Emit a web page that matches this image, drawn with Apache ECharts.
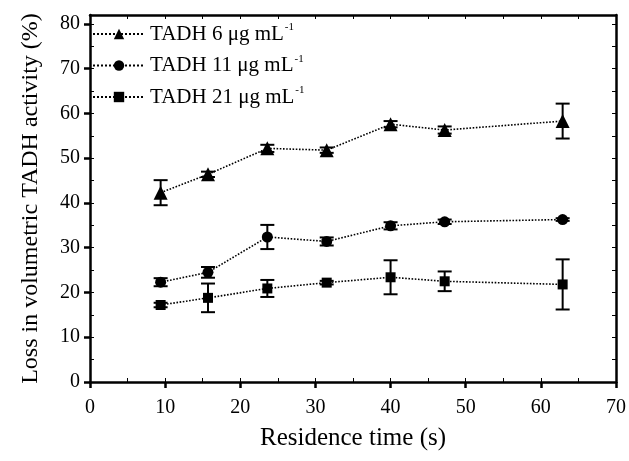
<!DOCTYPE html>
<html><head><meta charset="utf-8">
<script src="https://cdn.jsdelivr.net/npm/echarts@6/dist/echarts.min.js"></script>
<style>html,body{margin:0;padding:0;background:#fff}#c{width:629px;height:461px}</style>
</head><body><div id="c"></div>
<script>
const xs = [9.4, 15.7, 23.6, 31.5, 40.0, 47.2, 62.9];
const names = ['TADH 6 μg mL', 'TADH 11 μg mL', 'TADH 21 μg mL'];
const tri = [42.3, 46.4, 52.2, 51.8, 57.6, 56.3, 58.3];
const triErr = [2.8, 0.6, 0.8, 0.6, 0.7, 0.8, 3.9];
const cir = [22.3, 24.5, 32.4, 31.4, 34.9, 35.8, 36.3];
const cirErr = [0.9, 1.2, 2.7, 0.9, 0.8, 0.5, 0.3];
const sq = [17.2, 18.8, 20.9, 22.2, 23.4, 22.5, 21.8];
const sqErr = [0.5, 3.2, 1.9, 0.4, 3.8, 2.2, 5.6];
const xTicks = [0, 10, 20, 30, 40, 50, 60, 70];
const yTicks = [0, 10, 20, 30, 40, 50, 60, 70, 80];

const FONT = 'Liberation Serif';
const chart = echarts.init(document.getElementById('c'));

function pts(v){ return xs.map((x,i)=>[x, v[i]]); }
function errs(v,e){ return xs.map((x,i)=>[x, v[i]-e[i], v[i]+e[i]]); }
function renderErr(params, api){
  const x = api.value(0), lo = api.value(1), hi = api.value(2);
  const a = api.coord([x, hi]), b = api.coord([x, lo]);
  const w = 7;
  const st = {stroke:'#000', lineWidth:2};
  return {type:'group', children:[
    {type:'line', shape:{x1:a[0], y1:a[1], x2:b[0], y2:b[1]}, style:st},
    {type:'line', shape:{x1:a[0]-w, y1:a[1], x2:a[0]+w, y2:a[1]}, style:st},
    {type:'line', shape:{x1:b[0]-w, y1:b[1], x2:b[0]+w, y2:b[1]}, style:st}
  ]};
}
function lineSeries(name, v, sym, size){
  return {name, type:'line', data: pts(v), symbol: sym, symbolSize: size,
    itemStyle:{color:'#000'}, lineStyle:{color:'#000', width:1.6, type:'dotted'},
    z:3, animation:false};
}
function errSeries(v,e){
  return {type:'custom', renderItem: renderErr, data: errs(v,e), encode:{x:0, y:[1,2]}, z:2, animation:false, silent:true};
}
const axLine = {show:true, onZero:false, lineStyle:{color:'#000', width:2.5}};
const noLine = {show:false, onZero:false};
const sup = {
  a:{fontFamily:FONT, fontSize:21, color:'#000', lineHeight:24},
  s:{fontFamily:FONT, fontSize:11, color:'#000', verticalAlign:'top', lineHeight:24, padding:[0,0,8,1]}
};
chart.setOption({
  animation:false,
  backgroundColor:'#fff',
  grid:{left:90, right:13, top:15, bottom:79},
  legend:{
    orient:'vertical', left:92, top:22, padding:0, itemWidth:52, itemHeight:13, itemGap:9,
    data: names,
    formatter: n => '{a|' + n + '}{s|-1}',
    textStyle:{fontFamily:FONT, fontSize:21, color:'#000', rich: sup}
  },
  xAxis:[
    {type:'value', min:0, max:70, interval:10, position:'bottom',
     axisLine:axLine, axisTick:{show:true, length:6, lineStyle:{width:2.5, color:'#000'}},
     axisLabel:{fontFamily:FONT, fontSize:20, color:'#000', margin:16,
       formatter: v => xTicks.includes(v) ? String(v) : ''},
     splitLine:{show:false},
     name:'Residence time (s)', nameLocation:'middle', nameGap:44,
     nameTextStyle:{fontFamily:FONT, fontSize:25, color:'#000'}},
    {type:'value', min:0, max:70, interval:5, position:'top',
     axisLine:axLine, axisTick:{show:true, inside:true, length:4, lineStyle:{width:1, color:'#000'}},
     axisLabel:{show:false}, splitLine:{show:false}},
    {type:'value', min:0, max:70, interval:5, position:'bottom',
     axisLine:noLine, axisTick:{show:true, inside:true, length:4, lineStyle:{width:1, color:'#000'}},
     axisLabel:{show:false}, splitLine:{show:false}}
  ],
  yAxis:[
    {type:'value', min:0, max:82, interval:10, position:'left',
     axisLine:axLine, axisTick:{show:true, length:6, lineStyle:{width:2.5, color:'#000'}},
     axisLabel:{fontFamily:FONT, fontSize:20, color:'#000', margin:10, showMaxLabel:false,
       formatter: v => yTicks.includes(v) ? String(v) : ''},
     splitLine:{show:false},
     name:'Loss in volumetric TADH activity (%)', nameLocation:'middle', nameGap:47,
     nameTextStyle:{fontFamily:FONT, fontSize:24, color:'#000'}},
    {type:'value', min:0, max:82, interval:5, position:'right',
     axisLine:axLine, axisTick:{show:true, inside:true, length:4, lineStyle:{width:1, color:'#000'}},
     axisLabel:{show:false}, splitLine:{show:false}},
    {type:'value', min:0, max:82, interval:5, position:'left',
     axisLine:noLine, axisTick:{show:true, inside:true, length:4, lineStyle:{width:1, color:'#000'}},
     axisLabel:{show:false}, splitLine:{show:false}}
  ],
  series:[
    errSeries(tri, triErr), errSeries(cir, cirErr), errSeries(sq, sqErr),
    lineSeries(names[0], tri, 'triangle', 14),
    lineSeries(names[1], cir, 'circle', 11),
    lineSeries(names[2], sq, 'rect', 10)
  ]
});
</script></body></html>
